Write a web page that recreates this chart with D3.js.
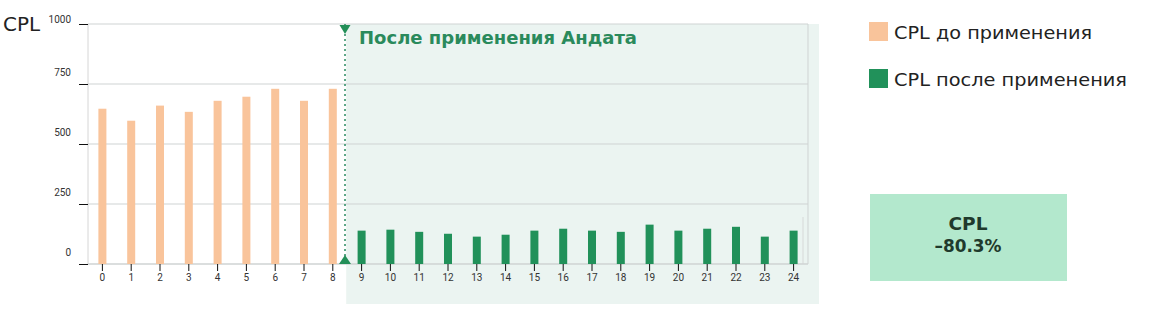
<!DOCTYPE html>
<html>
<head>
<meta charset="utf-8">
<script src="https://cdn.jsdelivr.net/npm/d3@7"></script>
<style>
  body { margin: 0; background: #fff; }
  svg { display: block; }
</style>
</head>
<body>
<svg id="chart" width="1169" height="311"></svg>
<script>
// data
const categories = d3.range(0, 25).map(String);
const beforeValues = [647, 597, 660, 634, 680, 697, 730, 680, 730];
const afterValues = [139, 143, 134, 126, 114, 122, 139, 147, 139, 134, 164, 139, 147, 155, 114, 139];
const yTicks = [0, 250, 500, 750, 1000];
const legendLabels = ["CPL до применения", "CPL после применения"];
const summaryLines = ["CPL", "–80.3%"];
const afterTitle = "После применения Андата";

const orange = "#f9c49b";
const green = "#21915a";
const wideFont = "DejaVu Sans";

const plotLeft = 88, plotRight = 808, plotTop = 24, plotBottom = 264;
const svg = d3.select("#chart");

const x = d3.scaleBand().domain(categories).range([plotLeft, plotRight]);
const y = d3.scaleLinear().domain([0, 1000]).range([plotBottom, plotTop]);

const before = beforeValues.map((v, i) => ({ c: categories[i], v: v }));
const after = afterValues.map((v, i) => ({ c: categories[i + beforeValues.length], v: v }));

// shaded "after" area
const splitX = x(categories[beforeValues.length]) - 1;
svg.append("rect")
  .attr("x", splitX).attr("y", plotTop)
  .attr("width", 819 - splitX).attr("height", 304 - plotTop)
  .attr("fill", "#ebf4f1");

// grid
svg.append("g")
  .selectAll("line")
  .data(yTicks)
  .enter().append("line")
  .attr("x1", plotLeft).attr("x2", plotRight)
  .attr("y1", d => y(d)).attr("y2", d => y(d))
  .attr("stroke", "#cfd3d3").attr("stroke-width", 1);

svg.append("line").attr("x1", plotLeft).attr("x2", plotLeft).attr("y1", plotTop).attr("y2", plotBottom).attr("stroke", "#d6d6d6");
svg.append("line").attr("x1", plotRight).attr("x2", plotRight).attr("y1", plotTop).attr("y2", plotBottom).attr("stroke", "#cfd3d3");
svg.append("line").attr("x1", 803).attr("x2", 803).attr("y1", 217).attr("y2", plotBottom).attr("stroke", "#d6d9d8");

// y axis ticks + labels
const yAxis = svg.append("g").attr("transform", "translate(" + plotLeft + ",0)")
  .call(d3.axisLeft(y).tickValues(yTicks).tickFormat(d3.format("d")).tickSize(9).tickPadding(0));
yAxis.select(".domain").remove();
yAxis.selectAll(".tick line").attr("stroke", "#111").attr("shape-rendering", "crispEdges");
yAxis.selectAll(".tick text")
  .attr("x", -17)
  .attr("dy", d => d === 1000 ? -2 : -9)
  .style("font-family", "Roboto")
  .style("font-size", "10px")
  .attr("fill", "#333");

svg.append("text").attr("x", 3).attr("y", 31)
  .text("CPL")
  .attr("textLength", 37).attr("lengthAdjust", "spacingAndGlyphs")
  .style("font-family", wideFont).style("font-size", "19px").attr("fill", "#222");

// x axis
const xAxis = svg.append("g").attr("transform", "translate(0," + plotBottom + ")")
  .call(d3.axisBottom(x).tickSize(7).tickPadding(3));
xAxis.select(".domain").attr("stroke", "#cfd3d3").attr("d", "M" + plotLeft + ",0H" + plotRight);
xAxis.selectAll(".tick line").attr("stroke", "#111");
xAxis.selectAll(".tick text")
  .style("font-family", "Roboto").style("font-size", "10px").attr("fill", "#333");

// bars
const barW = 8;
svg.append("g").selectAll("rect")
  .data(before).enter().append("rect")
  .attr("x", d => x(d.c) + x.bandwidth() / 2 - barW / 2)
  .attr("y", d => y(d.v))
  .attr("width", barW)
  .attr("height", d => plotBottom - y(d.v))
  .attr("fill", orange);

svg.append("g").selectAll("rect")
  .data(after).enter().append("rect")
  .attr("x", d => x(d.c) + x.bandwidth() / 2 - barW / 2)
  .attr("y", d => y(d.v))
  .attr("width", barW)
  .attr("height", d => plotBottom - y(d.v))
  .attr("fill", green);

// divider
const divX = 345;
svg.append("line")
  .attr("x1", divX).attr("x2", divX).attr("y1", plotTop).attr("y2", plotBottom)
  .attr("stroke", "#2a8a62").attr("stroke-width", 1.5).attr("stroke-dasharray", "2,3");
svg.append("path")
  .attr("d", "M" + (divX - 5.5) + "," + (plotTop + 1) + "L" + (divX + 5.5) + "," + (plotTop + 1) + "L" + divX + "," + (plotTop + 10) + "Z")
  .attr("fill", "#238f58");
svg.append("path")
  .attr("d", "M" + (divX - 6) + "," + plotBottom + "L" + (divX + 6) + "," + plotBottom + "L" + divX + "," + (plotBottom - 9) + "Z")
  .attr("fill", "#238f58");

svg.append("text").attr("x", 359).attr("y", 44)
  .text(afterTitle)
  .attr("textLength", 278).attr("lengthAdjust", "spacingAndGlyphs")
  .style("font-family", wideFont).style("font-weight", "bold").style("font-size", "18px")
  .attr("fill", "#2a8a5c");

// legend
const legendWidths = [198, 233];
const legend = svg.append("g");
[orange, green].forEach((c, i) => {
  legend.append("rect").attr("x", 869).attr("y", 22 + i * 47).attr("width", 19).attr("height", 19).attr("fill", c);
  legend.append("text").attr("x", 894).attr("y", 39 + i * 47)
    .text(legendLabels[i])
    .attr("textLength", legendWidths[i]).attr("lengthAdjust", "spacingAndGlyphs")
    .style("font-family", wideFont).style("font-size", "18px").attr("fill", "#222");
});

// summary box
svg.append("rect").attr("x", 870).attr("y", 194).attr("width", 197).attr("height", 87).attr("fill", "#b3e8cd");
const summaryWidths = [39, 67];
summaryLines.forEach((t, i) => {
  svg.append("text").attr("x", 968).attr("y", 230 + i * 22)
    .attr("text-anchor", "middle")
    .text(t)
    .attr("textLength", summaryWidths[i]).attr("lengthAdjust", "spacingAndGlyphs")
    .style("font-family", wideFont).style("font-weight", "bold").style("font-size", "17px")
    .attr("fill", "#1f3a2c");
});
</script>
</body>
</html>
